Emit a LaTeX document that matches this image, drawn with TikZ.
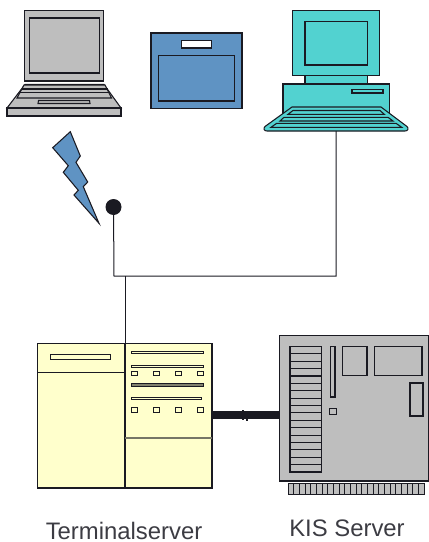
\documentclass[tikz,border=0pt]{standalone}
\usepackage{fontspec}
\setmainfont{Liberation Sans}
\definecolor{lapgray}{HTML}{BEBEBE}
\definecolor{padblue}{HTML}{5F93C3}
\definecolor{pccyan}{HTML}{52D2D0}
\definecolor{termyellow}{HTML}{FFFFCC}
\definecolor{ink}{HTML}{1A1A22}
\tikzset{
  part/.style={draw=ink,line width=0.8pt,line join=miter},
  wire/.style={draw=ink,line width=0.75pt},
  caption/.style={font=\fontsize{17.9pt}{20pt}\selectfont,inner sep=0pt,text=ink!85!white,anchor=base},
}
\begin{document}
\begin{tikzpicture}[x=0.75pt,y=-0.75pt]
\useasboundingbox (0,0) rectangle (428,542);
% laptop
\begin{scope}[part/.append style={fill=lapgray}]
\path[part] (24.5,10.5) rectangle (103.5,81);
\path[part] (29.5,18) rectangle (99.5,73);
\path[part] (25,84.5) -- (104,84.5) -- (121,108) -- (7,108) -- cycle;
\path[part] (7,108) rectangle (121,116);
\path[part] (24,85) -- (105,85) -- (111.5,98) -- (17,98) -- cycle;
\draw[part,line width=1.1pt] (21.5,89) -- (107.5,89);
\draw[part,line width=1.1pt] (20,92.5) -- (109.5,92.5);
\path[part] (38.5,100.5) -- (89.5,100.5) -- (90,103.5) -- (38,103.5) -- cycle;
\end{scope}
% pad
\path[part,fill=padblue] (151,33) rectangle (242,108.5);
\path[part,fill=white] (181.5,40.5) rectangle (211.5,48);
\path[part,fill=padblue] (158.5,55.5) rectangle (234.5,101);
% pc
\path[part,fill=pccyan] (292.7,10.5) rectangle (379.7,75.5);
\path[part,fill=pccyan] (305,21.5) rectangle (367.5,65);
\path[part,fill=pccyan] (305,75.5) rectangle (367.5,84);
\path[part,fill=pccyan] (283,84) rectangle (389.5,114);
\path[part,fill=pccyan] (352,89.5) rectangle (383,93);
\path[part,fill=pccyan] (292,107) -- (381,107) -- (407,126.5)
  .. controls (409,128.5) and (408,131) .. (405,131) -- (267,131)
  .. controls (264,131) and (263,128.5) .. (265,126.5) -- cycle;
\path[part,fill=pccyan] (293,110.5) -- (380,110.5) -- (384.3,114.3) -- (288,114.3) -- cycle;
\path[part,fill=pccyan] (284,117.3) -- (388,117.3) -- (393,121) -- (280,121) -- cycle;
\path[part,fill=pccyan] (276.7,123.3) -- (396,123.3) -- (401.7,127.3) -- (271,127.3) -- cycle;
% lightning
\path[part,fill=padblue] (70.3,131.7) -- (52.7,147.7) -- (68.3,165.7) -- (63.3,172.3) -- (78.3,190.3)
  -- (74,195) -- (99,223.3) -- (83.3,186.7) -- (87.7,182) -- (76,162.3) -- (80.3,156) -- cycle;
% wires
\node[circle,fill=ink,minimum size=12pt,inner sep=0pt] (dot) at (113.5,207) {};
\coordinate (pcfoot) at (336,131);
\coordinate (busA) at (114,276);
\coordinate (busB) at (336,276);
\coordinate (busC) at (125,276);
\coordinate (termtop) at (125,343.5);
\draw[wire] (dot.center) -- (busA) -- (busB) -- (pcfoot);
\draw[wire] (busC) -- (termtop);
% terminal server
\path[part,fill=termyellow] (37.5,343.5) rectangle (212,488);
\draw[part] (125,343.5) -- (125,488);
\draw[part] (37.5,372.5) -- (125,372.5);
\draw[part,draw=ink!60!termyellow,line width=1.1pt] (125,438) -- (212,438);
\begin{scope}[part/.append style={fill=termyellow,line width=0.7pt}]
\path[part] (50.5,354.5) rectangle (110.5,359);
\path[part] (131,351) rectangle (203,353.5);
\path[part] (131,365) rectangle (203,367.5);
\path[part,fill=ink!55!termyellow] (131,383) rectangle (203,386.5);
\path[part] (131,397) rectangle (201.5,399.5);
\foreach \xx in {131,153,175,197} {
  \path[part] (\xx,371.5) rectangle ++(6,4);
  \path[part] (\xx,407.5) rectangle ++(6,4.5);
}
\end{scope}
% link
\coordinate (linkA) at (212,415);
\coordinate (linkB) at (279.5,415);
\draw[ink,line width=6pt] (linkA) -- (linkB);
\fill[ink] (241.5,410) rectangle (244,419.5);
\fill[ink] (245.5,411) rectangle (248,420.5);
% KIS server
\foreach \pin in {0,...,23} {
  \path[part,fill=lapgray,line width=0.75pt] ({288+\pin*5.68},483) rectangle ++(5.68,11);
}
\path[part,fill=lapgray] (279.5,335.5) rectangle (428.5,481);
\begin{scope}[part/.append style={fill=lapgray}]
\path[part] (290,346.5) rectangle (321.5,472);
\foreach \row in {1,...,16} { \draw[part] (290,{346.5+\row*7.38}) -- (321.5,{346.5+\row*7.38}); }
\path[part] (330.5,346.5) rectangle (335,397);
\path[part] (342.5,346.5) rectangle (367,375.5);
\path[part] (374.5,346.5) rectangle (422,375.5);
\path[part] (410,383) rectangle (423,416);
\path[part] (329.5,408.5) rectangle (336.5,414.5);
\end{scope}
% labels
\node[caption] (termlabel) at (124,539) {Terminalserver};
\node[caption] (kislabel) at (347,536.5) {KIS Server};
\end{tikzpicture}
\end{document}
